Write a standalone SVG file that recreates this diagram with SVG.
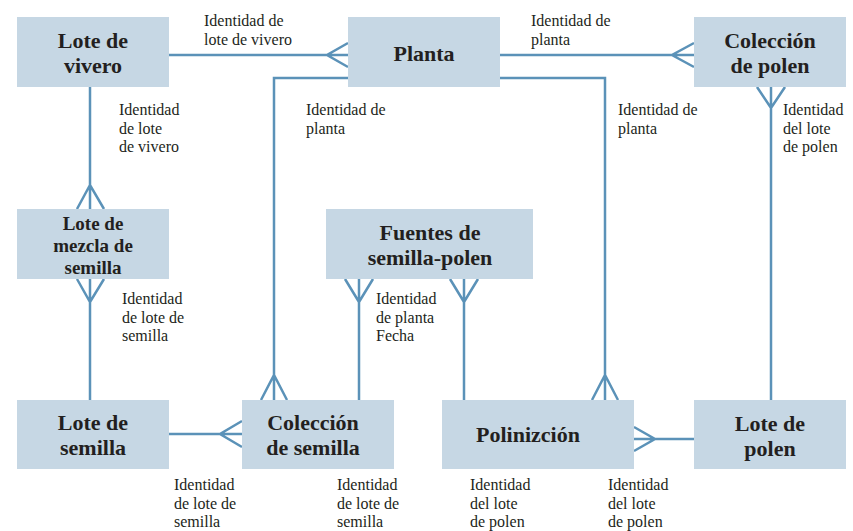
<svg xmlns="http://www.w3.org/2000/svg" width="853" height="531" viewBox="0 0 853 531">
<style>
.box{fill:#c6d7e4}
.t{font-family:'Liberation Serif','DejaVu Serif',serif;font-weight:bold;font-size:22px;fill:#231f20;text-anchor:middle}
.t3{font-size:19px}
.l{font-family:'Liberation Serif','DejaVu Serif',serif;font-size:16px;fill:#231f20}
.c{fill:none;stroke:#5b92b8;stroke-width:2.5}
</style>
<rect width="853" height="531" fill="#fff"/>
<g id="connectors" class="c">
<path d="M169,55H348M348,43L327,55L348,67"/>
<path d="M500,55H694M694,43L672,55L694,67"/>
<path d="M348,78H274V400M261,400L274,375L287,400"/>
<path d="M500,78H605V400M592,400L605,375L618,400"/>
<path d="M771,87V400M757,87L771,108L785,87"/>
<path d="M90,87V209M77,209L90,185L104,209"/>
<path d="M90,279V400M77,279L90,302L104,279"/>
<path d="M359,279V400M345,279L359,302L373,279"/>
<path d="M464,279V400M450,279L464,302L478,279"/>
<path d="M169,434H242M242,421L220,434L242,447"/>
<path d="M634,439H694M634,427L655,439L634,451"/>
</g>
<g id="lote-vivero"><rect class="box" x="17" y="17" width="152" height="70"/><text class="t"><tspan x="93" y="48">Lote de</tspan><tspan x="93" y="73">vivero</tspan></text></g>
<g id="planta"><rect class="box" x="348" y="17" width="152" height="70"/><text class="t" x="424" y="61">Planta</text></g>
<g id="coleccion-polen"><rect class="box" x="694" y="17" width="152" height="70"/><text class="t"><tspan x="770" y="48">Colección</tspan><tspan x="770" y="73">de polen</tspan></text></g>
<g id="lote-mezcla"><rect class="box" x="17" y="209" width="152" height="70"/><text class="t t3"><tspan x="93" y="230">Lote de</tspan><tspan x="93" y="252">mezcla de</tspan><tspan x="93" y="274">semilla</tspan></text></g>
<g id="fuentes"><rect class="box" x="326" y="209" width="207" height="70"/><text class="t"><tspan x="430" y="240">Fuentes de</tspan><tspan x="430" y="265">semilla-polen</tspan></text></g>
<g id="lote-semilla"><rect class="box" x="17" y="400" width="152" height="69"/><text class="t"><tspan x="93" y="430">Lote de</tspan><tspan x="93" y="455">semilla</tspan></text></g>
<g id="coleccion-semilla"><rect class="box" x="242" y="400" width="152" height="69"/><text class="t"><tspan x="313" y="430">Colección</tspan><tspan x="313" y="455">de semilla</tspan></text></g>
<g id="polinizcion"><rect class="box" x="442" y="400" width="192" height="69"/><text class="t" x="528" y="442">Polinizción</text></g>
<g id="lote-polen"><rect class="box" x="694" y="400" width="152" height="69"/><text class="t"><tspan x="770" y="431">Lote de</tspan><tspan x="770" y="456">polen</tspan></text></g>
<g id="labels" class="l">
<text><tspan x="204" y="26">Identidad de</tspan><tspan x="204" y="44.5">lote de vivero</tspan></text>
<text><tspan x="531" y="26">Identidad de</tspan><tspan x="531" y="44.5">planta</tspan></text>
<text><tspan x="119" y="115">Identidad</tspan><tspan x="119" y="133.5">de lote</tspan><tspan x="119" y="152">de vivero</tspan></text>
<text><tspan x="306" y="115">Identidad de</tspan><tspan x="306" y="133.5">planta</tspan></text>
<text><tspan x="618" y="115">Identidad de</tspan><tspan x="618" y="133.5">planta</tspan></text>
<text><tspan x="783" y="115">Identidad</tspan><tspan x="783" y="133.5">del lote</tspan><tspan x="783" y="152">de polen</tspan></text>
<text><tspan x="122" y="304">Identidad</tspan><tspan x="122" y="322.5">de lote de</tspan><tspan x="122" y="341">semilla</tspan></text>
<text><tspan x="376" y="304">Identidad</tspan><tspan x="376" y="322.5">de planta</tspan><tspan x="376" y="341">Fecha</tspan></text>
<text><tspan x="174" y="490">Identidad</tspan><tspan x="174" y="508.5">de lote de</tspan><tspan x="174" y="527">semilla</tspan></text>
<text><tspan x="337" y="490">Identidad</tspan><tspan x="337" y="508.5">de lote de</tspan><tspan x="337" y="527">semilla</tspan></text>
<text><tspan x="470" y="490">Identidad</tspan><tspan x="470" y="508.5">del lote</tspan><tspan x="470" y="527">de polen</tspan></text>
<text><tspan x="608" y="490">Identidad</tspan><tspan x="608" y="508.5">del lote</tspan><tspan x="608" y="527">de polen</tspan></text>
</g>
</svg>
